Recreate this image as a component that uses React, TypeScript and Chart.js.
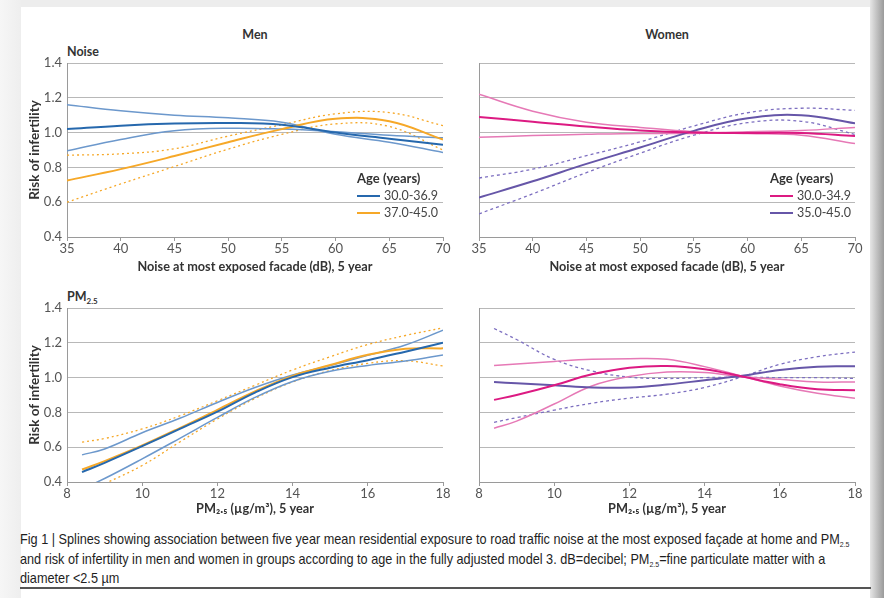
import React, { useEffect, useRef } from 'react';
import { Chart, registerables } from 'chart.js';

Chart.register(...registerables);

// ---------- data ----------
const noiseX = [35, 40, 45, 50, 55, 60, 65, 70];
const pmX = [8.4, 9, 10, 11, 12, 13, 14, 15, 16, 17, 18];

const noiseTicks = { min: 35, max: 70, step: 5 };
const pmTicks = { min: 8, max: 18, step: 2 };
const riskTicks = { min: 0.4, max: 1.4, step: 0.2 };

// Men, noise
const menNoiseYoung = [1.02, 1.04, 1.052, 1.055, 1.045, 1.0, 0.965, 0.93];
const menNoiseYoungCiA = [1.16, 1.125, 1.1, 1.085, 1.06, 0.99, 0.945, 0.886];
const menNoiseYoungCiB = [0.895, 0.96, 1.01, 1.025, 1.02, 1.005, 0.985, 0.97];
const menNoiseOld = [0.725, 0.79, 0.865, 0.945, 1.02, 1.08, 1.065, 0.96];
const menNoiseOldUpper = [0.87, 0.878, 0.907, 0.98, 1.045, 1.108, 1.115, 1.04];
const menNoiseOldLower = [0.6, 0.705, 0.805, 0.905, 0.99, 1.05, 1.035, 0.9];

// Women, noise
const womenNoiseYoung = [1.09, 1.063, 1.035, 1.012, 1.0, 0.998, 0.997, 0.98];
const womenNoiseYoungCiA = [1.22, 1.123, 1.06, 1.03, 1.005, 0.995, 0.985, 0.937];
const womenNoiseYoungCiB = [0.973, 0.983, 0.99, 0.995, 0.995, 1.005, 1.012, 1.03];
const womenNoiseOld = [0.627, 0.72, 0.82, 0.914, 1.01, 1.082, 1.1, 1.053];
const womenNoiseOldUpper = [0.739, 0.79, 0.867, 0.947, 1.038, 1.114, 1.14, 1.128];
const womenNoiseOldLower = [0.533, 0.648, 0.77, 0.882, 0.985, 1.057, 1.065, 0.99];

// Men, PM2.5
const menPmYoung = [0.457, 0.51, 0.606, 0.705, 0.804, 0.914, 1.003, 1.057, 1.1, 1.149, 1.2];
const menPmYoungUpper = [0.556, 0.59, 0.683, 0.766, 0.857, 0.943, 1.015, 1.07, 1.128, 1.187, 1.272];
const menPmYoungLower = [0.36, 0.42, 0.533, 0.651, 0.771, 0.886, 0.978, 1.036, 1.07, 1.095, 1.13];
const menPmOld = [0.472, 0.52, 0.61, 0.71, 0.815, 0.92, 1.01, 1.072, 1.131, 1.166, 1.168];
const menPmOldUpper = [0.629, 0.65, 0.705, 0.78, 0.867, 0.956, 1.044, 1.12, 1.19, 1.242, 1.286];
const menPmOldLower = [0.33, 0.39, 0.495, 0.63, 0.762, 0.88, 0.975, 1.04, 1.082, 1.097, 1.067];

// Women, PM2.5
const womenPmYoung = [0.872, 0.9, 0.956, 1.019, 1.057, 1.067, 1.048, 1.006, 0.962, 0.933, 0.928];
const womenPmYoungCiA = [1.07, 1.078, 1.093, 1.105, 1.109, 1.105, 1.063, 1.008, 0.952, 0.91, 0.882];
const womenPmYoungCiB = [0.709, 0.75, 0.848, 0.952, 1.006, 1.032, 1.029, 1.005, 0.99, 0.975, 0.975];
const womenPmOld = [0.975, 0.967, 0.956, 0.943, 0.943, 0.96, 0.985, 1.01, 1.044, 1.063, 1.065];
const womenPmOldCiA = [1.282, 1.219, 1.105, 1.038, 1.003, 0.995, 1.0, 1.002, 1.0, 1.0, 0.995];
const womenPmOldCiB = [0.743, 0.77, 0.813, 0.853, 0.882, 0.905, 0.943, 1.005, 1.076, 1.12, 1.147];

const menLegend = ['30.0-36.9', '37.0-45.0'];
const womenLegend = ['30.0-34.9', '35.0-45.0'];

// ---------- styles ----------
const BLUE = '#2668ad';
const BLUE_CI = '#6c98cc';
const ORANGE = '#f6a828';
const PINK = '#dc1a82';
const PINK_CI = '#e679b6';
const PURPLE = '#6656a8';
const PURPLE_CI = '#7d6fc0';
const FONT = 'Lato, "Open Sans", sans-serif';

type Series = { y: number[]; color: string; width: number; dash?: number[] };

type PanelProps = {
  left: number;
  top: number;
  width: number;
  height: number;
  xs: number[];
  series: Series[];
  xr: { min: number; max: number; step: number };
  xTitle: string;
  showY: boolean;
  yWidth: number;
  padRight: number;
  titlePad: number;
};

function Panel(p: PanelProps) {
  const ref = useRef<HTMLCanvasElement>(null);
  useEffect(() => {
    const chart = new Chart(ref.current as HTMLCanvasElement, {
      type: 'line',
      data: {
        datasets: p.series.map((s) => ({
          data: p.xs.map((x, i) => ({ x, y: s.y[i] })),
          borderColor: s.color,
          borderWidth: s.width,
          borderDash: s.dash || [],
          pointRadius: 0,
          tension: 0.4,
          fill: false,
        })),
      },
      options: {
        responsive: false,
        animation: false,
        devicePixelRatio: 1,
        layout: { padding: { top: 23, right: p.padRight, left: 0, bottom: 0 } },
        plugins: { legend: { display: false }, tooltip: { enabled: false } },
        scales: {
          x: {
            type: 'linear',
            min: p.xr.min,
            max: p.xr.max,
            ticks: {
              stepSize: p.xr.step,
              color: '#555',
              padding: 0,
              maxRotation: 0,
              font: { family: FONT, size: 13 },
              callback: (v: any) => String(v),
            },
            grid: { drawOnChartArea: false, drawTicks: true, tickLength: 4, color: '#9a9a9a' },
            border: { display: true, color: '#9a9a9a', width: 1 },
            title: {
              display: true,
              text: p.xTitle,
              color: '#333',
              font: { family: FONT, size: 12.7, weight: 'bold' },
              padding: { top: 0, bottom: p.titlePad },
            },
            afterFit: (s: any) => {
              s.height = 43;
            },
          },
          y: {
            type: 'linear',
            min: riskTicks.min,
            max: riskTicks.max,
            ticks: {
              display: p.showY,
              stepSize: riskTicks.step,
              color: '#555',
              padding: 5,
              font: { family: FONT, size: 13 },
              callback: (v: any) => Number(v).toFixed(1),
            },
            grid: { color: '#b8b8b8', drawTicks: false, lineWidth: 1 },
            border: { display: true, color: '#9a9a9a', width: 1 },
            title: {
              display: p.showY,
              text: 'Risk of infertility',
              color: '#333',
              font: { family: FONT, size: 13.5, weight: 'bold' },
              padding: { top: 7, bottom: 0 },
            },
            afterFit: (s: any) => {
              s.width = p.yWidth;
            },
          },
        },
      } as any,
    });
    return () => chart.destroy();
  }, []);
  return (
    <canvas
      ref={ref}
      width={p.width}
      height={p.height}
      style={{ position: 'absolute', left: p.left, top: p.top, width: p.width, height: p.height }}
    />
  );
}

function Legend({ left, top, labels, colors }: { left: number; top: number; labels: string[]; colors: string[] }) {
  return (
    <div style={{ position: 'absolute', left, top, fontFamily: FONT, fontSize: 12.5, lineHeight: '17px' }}>
      <div style={{ fontWeight: 'bold', color: '#333', fontSize: 13 }}>Age (years)</div>
      {labels.map((l, i) => (
        <div key={l} style={{ display: 'flex', alignItems: 'center', color: '#444' }}>
          <span style={{ display: 'inline-block', width: 23, height: 2, background: colors[i], marginRight: 4 }} />
          <span>{l}</span>
        </div>
      ))}
    </div>
  );
}

const textStyle: React.CSSProperties = {
  position: 'absolute',
  fontFamily: FONT,
  fontSize: 12.5,
  fontWeight: 'bold',
  color: '#333',
  lineHeight: '14px',
  whiteSpace: 'nowrap',
};

const subStyle: React.CSSProperties = { fontSize: 8, verticalAlign: 'baseline', position: 'relative', top: 3 };

export default function App() {
  const lw = 440;
  const ph = 240;
  return (
    <div style={{ position: 'fixed', left: 0, top: 0, width: 884, height: 598, background: '#fff', overflow: 'hidden' }}>
      {/* frame */}
      <div style={{ position: 'absolute', left: 0, top: 0, width: 884, height: 7, background: '#ededed' }} />
      <div style={{ position: 'absolute', left: 0, top: 0, width: 21, height: 598, background: 'linear-gradient(to right, #f6f6f6, #eeeeee)' }} />
      <div style={{ position: 'absolute', left: 870, top: 0, width: 14, height: 598, background: 'linear-gradient(to right, #e6e6e6, #9a9a9a)' }} />

      <div style={{ ...textStyle, left: 255, top: 28, transform: 'translateX(-50%)' }}>Men</div>
      <div style={{ ...textStyle, left: 667, top: 28, transform: 'translateX(-50%)' }}>Women</div>
      <div style={{ ...textStyle, left: 67, top: 45 }}>Noise</div>
      <div style={{ ...textStyle, left: 67, top: 290 }}>
        PM<sub style={subStyle}>2.5</sub>
      </div>

      <Panel
        left={20} top={40} width={lw} height={ph} xs={noiseX} xr={noiseTicks}
        xTitle="Noise at most exposed facade (dB), 5 year" showY yWidth={47} padRight={17} titlePad={5}
        series={[
          { y: menNoiseYoung, color: BLUE, width: 2 },
          { y: menNoiseOld, color: ORANGE, width: 2 },
          { y: menNoiseYoungCiA, color: BLUE_CI, width: 1.5 },
          { y: menNoiseYoungCiB, color: BLUE_CI, width: 1.5 },
          { y: menNoiseOldUpper, color: ORANGE, width: 1.3, dash: [2, 3] },
          { y: menNoiseOldLower, color: ORANGE, width: 1.3, dash: [2, 3] },
        ]}
      />
      <Panel
        left={460} top={40} width={420} height={ph} xs={noiseX} xr={noiseTicks}
        xTitle="Noise at most exposed facade (dB), 5 year" showY={false} yWidth={19} padRight={25} titlePad={5}
        series={[
          { y: womenNoiseYoung, color: PINK, width: 2 },
          { y: womenNoiseOld, color: PURPLE, width: 2 },
          { y: womenNoiseYoungCiA, color: PINK_CI, width: 1.5 },
          { y: womenNoiseYoungCiB, color: PINK_CI, width: 1.5 },
          { y: womenNoiseOldUpper, color: PURPLE_CI, width: 1.3, dash: [3, 3] },
          { y: womenNoiseOldLower, color: PURPLE_CI, width: 1.3, dash: [3, 3] },
        ]}
      />
      <Panel
        left={20} top={285} width={lw} height={ph} xs={pmX} xr={pmTicks}
        xTitle="PM₂.₅ (µg/m³), 5 year" showY yWidth={47} padRight={17} titlePad={8}
        series={[
          { y: menPmYoung, color: BLUE, width: 2 },
          { y: menPmOld, color: ORANGE, width: 2 },
          { y: menPmYoungUpper, color: BLUE_CI, width: 1.5 },
          { y: menPmYoungLower, color: BLUE_CI, width: 1.5 },
          { y: menPmOldUpper, color: ORANGE, width: 1.3, dash: [2, 3] },
          { y: menPmOldLower, color: ORANGE, width: 1.3, dash: [2, 3] },
        ]}
      />
      <Panel
        left={460} top={285} width={420} height={ph} xs={pmX} xr={pmTicks}
        xTitle="PM₂.₅ (µg/m³), 5 year" showY={false} yWidth={19} padRight={25} titlePad={8}
        series={[
          { y: womenPmYoung, color: PINK, width: 2 },
          { y: womenPmOld, color: PURPLE, width: 2 },
          { y: womenPmYoungCiA, color: PINK_CI, width: 1.5 },
          { y: womenPmYoungCiB, color: PINK_CI, width: 1.5 },
          { y: womenPmOldCiA, color: PURPLE_CI, width: 1.3, dash: [3, 3] },
          { y: womenPmOldCiB, color: PURPLE_CI, width: 1.3, dash: [3, 3] },
        ]}
      />

      <Legend left={357} top={170} labels={menLegend} colors={[BLUE, ORANGE]} />
      <Legend left={770} top={170} labels={womenLegend} colors={[PINK, PURPLE]} />

      <div
        style={{
          position: 'absolute', left: 20, top: 531, width: 960,
          fontFamily: '"Liberation Sans", Arial, sans-serif',
          fontSize: 14.5, lineHeight: '17.5px', color: '#1e1e1e', whiteSpace: 'nowrap',
          transform: 'scaleX(0.875)', transformOrigin: '0 0',
        }}
      >
        Fig 1 | Splines showing association between five year mean residential exposure to road traffic noise at the most exposed façade at home and PM<sub style={subStyle}>2.5</sub>
        <br />
        and risk of infertility in men and women in groups according to age in the fully adjusted model 3. dB=decibel; PM<sub style={subStyle}>2.5</sub>=fine particulate matter with a
        <br />
        diameter &lt;2.5 µm
      </div>
      <div style={{ position: 'absolute', left: 20, top: 587, width: 851, height: 1.5, background: '#555' }} />
    </div>
  );
}
